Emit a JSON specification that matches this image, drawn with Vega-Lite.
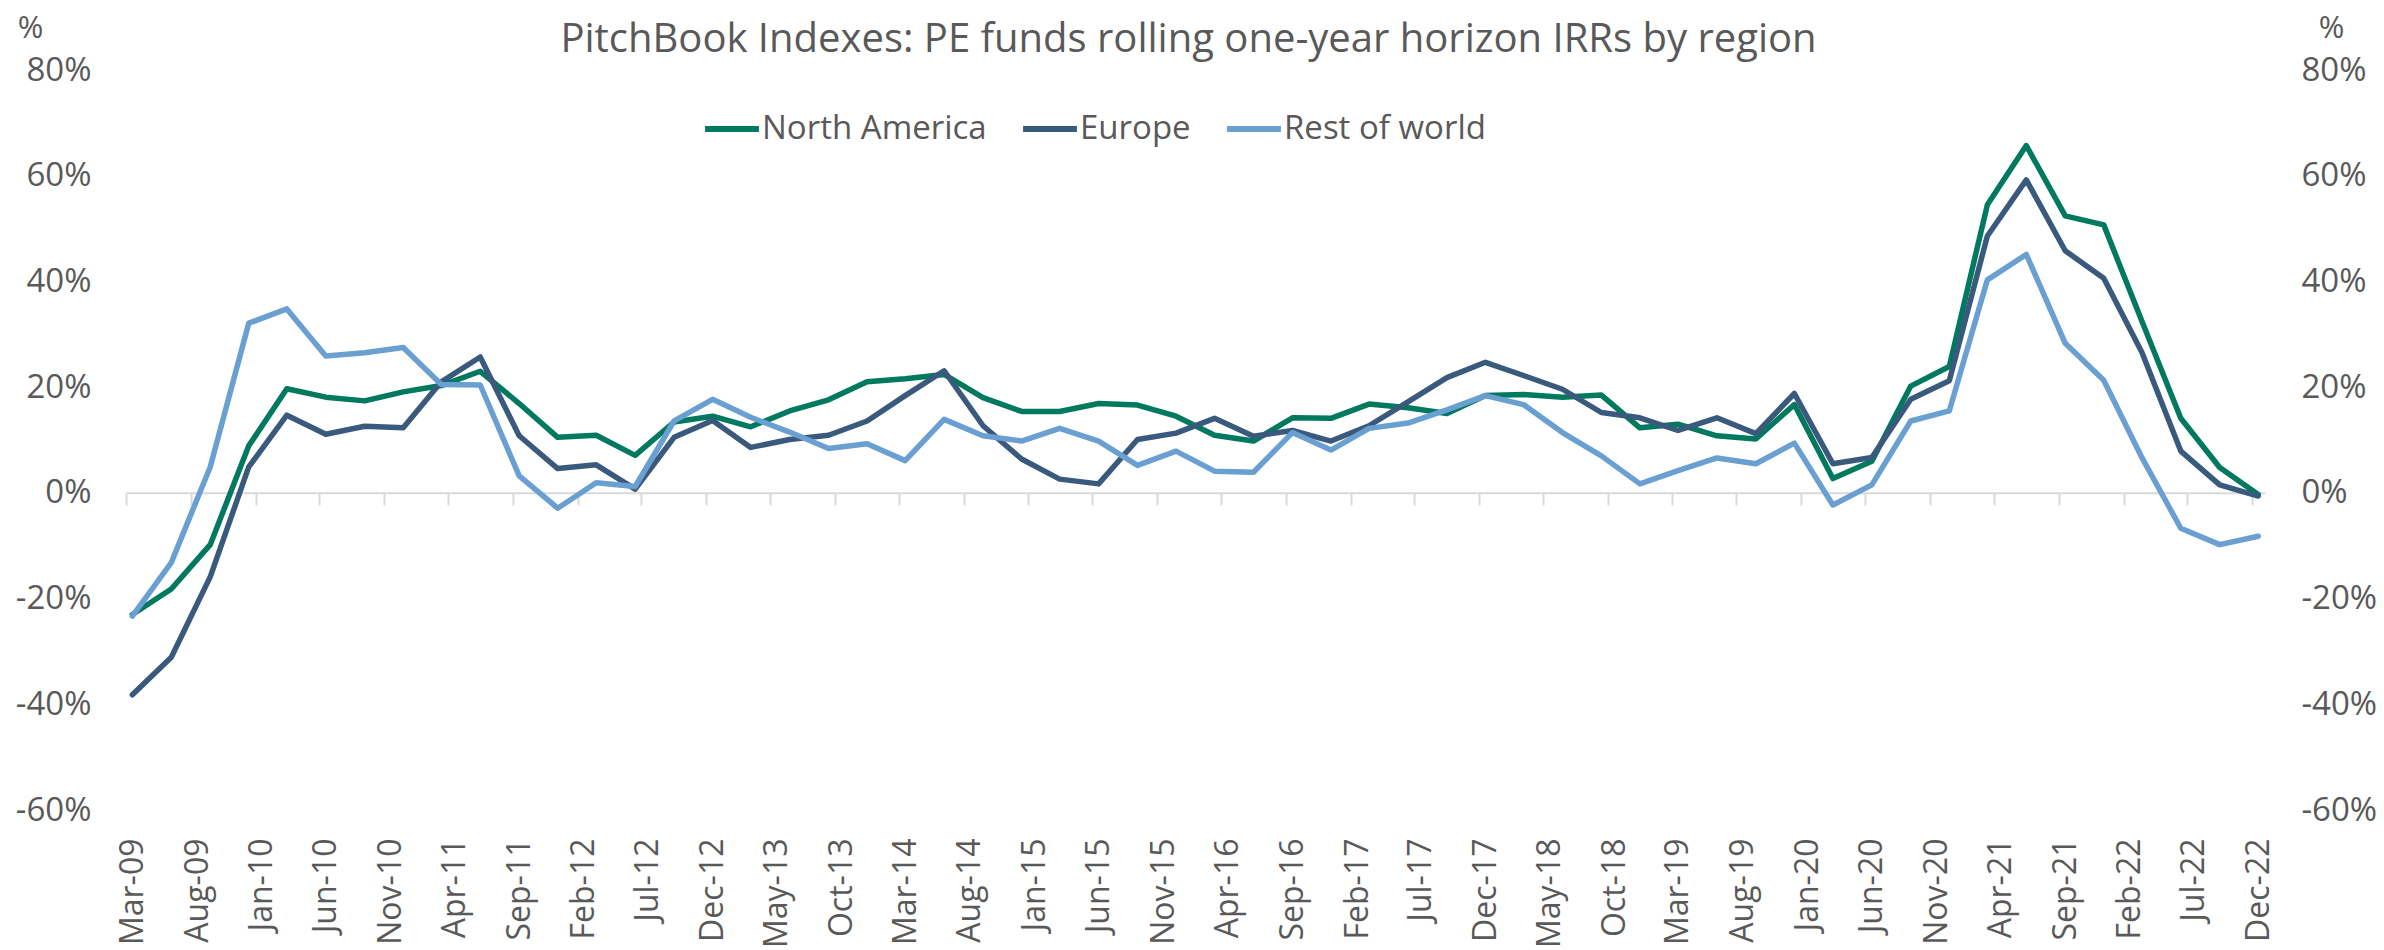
{
  "$schema": "https://vega.github.io/schema/vega-lite/v6.json",
  "autosize": {"type": "none"},
  "padding": {"left": 126, "top": 70, "right": 119, "bottom": 140},
  "width": 2139,
  "height": 740,
  "background": "#ffffff",
  "config": {"font": "Open Sans", "view": {"stroke": null}},
  "title": {"text": "PitchBook Indexes: PE funds rolling one-year horizon IRRs by region", "fontSize": 40, "fontWeight": "normal", "color": "#595959", "anchor": "middle", "dx": -7, "dy": 52},
  "data": {"values": [
    {"d":"2009-03-16","r":"North America","v":-23.0},{"d":"2009-03-16","r":"Europe","v":-38.2},{"d":"2009-03-16","r":"Rest of world","v":-23.3},
    {"d":"2009-06-16","r":"North America","v":-18.2},{"d":"2009-06-16","r":"Europe","v":-31.1},{"d":"2009-06-16","r":"Rest of world","v":-13.2},
    {"d":"2009-09-16","r":"North America","v":-9.8},{"d":"2009-09-16","r":"Europe","v":-15.9},{"d":"2009-09-16","r":"Rest of world","v":4.9},
    {"d":"2009-12-16","r":"North America","v":8.9},{"d":"2009-12-16","r":"Europe","v":4.9},{"d":"2009-12-16","r":"Rest of world","v":32.1},
    {"d":"2010-03-16","r":"North America","v":19.7},{"d":"2010-03-16","r":"Europe","v":14.7},{"d":"2010-03-16","r":"Rest of world","v":34.8},
    {"d":"2010-06-16","r":"North America","v":18.1},{"d":"2010-06-16","r":"Europe","v":11.1},{"d":"2010-06-16","r":"Rest of world","v":25.9},
    {"d":"2010-09-16","r":"North America","v":17.4},{"d":"2010-09-16","r":"Europe","v":12.6},{"d":"2010-09-16","r":"Rest of world","v":26.5},
    {"d":"2010-12-16","r":"North America","v":19.1},{"d":"2010-12-16","r":"Europe","v":12.3},{"d":"2010-12-16","r":"Rest of world","v":27.5},
    {"d":"2011-03-16","r":"North America","v":20.3},{"d":"2011-03-16","r":"Europe","v":21.0},{"d":"2011-03-16","r":"Rest of world","v":20.5},
    {"d":"2011-06-16","r":"North America","v":23.0},{"d":"2011-06-16","r":"Europe","v":25.7},{"d":"2011-06-16","r":"Rest of world","v":20.4},
    {"d":"2011-09-16","r":"North America","v":16.9},{"d":"2011-09-16","r":"Europe","v":10.8},{"d":"2011-09-16","r":"Rest of world","v":3.2},
    {"d":"2011-12-16","r":"North America","v":10.5},{"d":"2011-12-16","r":"Europe","v":4.6},{"d":"2011-12-16","r":"Rest of world","v":-2.9},
    {"d":"2012-03-16","r":"North America","v":10.9},{"d":"2012-03-16","r":"Europe","v":5.3},{"d":"2012-03-16","r":"Rest of world","v":1.9},
    {"d":"2012-06-16","r":"North America","v":7.1},{"d":"2012-06-16","r":"Europe","v":0.7},{"d":"2012-06-16","r":"Rest of world","v":1.2},
    {"d":"2012-09-16","r":"North America","v":13.4},{"d":"2012-09-16","r":"Europe","v":10.5},{"d":"2012-09-16","r":"Rest of world","v":13.6},
    {"d":"2012-12-16","r":"North America","v":14.5},{"d":"2012-12-16","r":"Europe","v":13.7},{"d":"2012-12-16","r":"Rest of world","v":17.7},
    {"d":"2013-03-16","r":"North America","v":12.5},{"d":"2013-03-16","r":"Europe","v":8.6},{"d":"2013-03-16","r":"Rest of world","v":14.3},
    {"d":"2013-06-16","r":"North America","v":15.5},{"d":"2013-06-16","r":"Europe","v":10.1},{"d":"2013-06-16","r":"Rest of world","v":11.5},
    {"d":"2013-09-16","r":"North America","v":17.6},{"d":"2013-09-16","r":"Europe","v":10.9},{"d":"2013-09-16","r":"Rest of world","v":8.4},
    {"d":"2013-12-16","r":"North America","v":21.0},{"d":"2013-12-16","r":"Europe","v":13.6},{"d":"2013-12-16","r":"Rest of world","v":9.3},
    {"d":"2014-03-16","r":"North America","v":21.6},{"d":"2014-03-16","r":"Europe","v":18.4},{"d":"2014-03-16","r":"Rest of world","v":6.1},
    {"d":"2014-06-16","r":"North America","v":22.4},{"d":"2014-06-16","r":"Europe","v":23.1},{"d":"2014-06-16","r":"Rest of world","v":13.9},
    {"d":"2014-09-16","r":"North America","v":18.0},{"d":"2014-09-16","r":"Europe","v":12.7},{"d":"2014-09-16","r":"Rest of world","v":10.8},
    {"d":"2014-12-16","r":"North America","v":15.4},{"d":"2014-12-16","r":"Europe","v":6.4},{"d":"2014-12-16","r":"Rest of world","v":9.8},
    {"d":"2015-03-16","r":"North America","v":15.4},{"d":"2015-03-16","r":"Europe","v":2.6},{"d":"2015-03-16","r":"Rest of world","v":12.2},
    {"d":"2015-06-16","r":"North America","v":16.9},{"d":"2015-06-16","r":"Europe","v":1.7},{"d":"2015-06-16","r":"Rest of world","v":9.8},
    {"d":"2015-09-16","r":"North America","v":16.6},{"d":"2015-09-16","r":"Europe","v":10.1},{"d":"2015-09-16","r":"Rest of world","v":5.2},
    {"d":"2015-12-16","r":"North America","v":14.5},{"d":"2015-12-16","r":"Europe","v":11.3},{"d":"2015-12-16","r":"Rest of world","v":7.9},
    {"d":"2016-03-16","r":"North America","v":10.9},{"d":"2016-03-16","r":"Europe","v":14.1},{"d":"2016-03-16","r":"Rest of world","v":4.1},
    {"d":"2016-06-16","r":"North America","v":9.8},{"d":"2016-06-16","r":"Europe","v":10.7},{"d":"2016-06-16","r":"Rest of world","v":3.9},
    {"d":"2016-09-16","r":"North America","v":14.2},{"d":"2016-09-16","r":"Europe","v":11.8},{"d":"2016-09-16","r":"Rest of world","v":11.4},
    {"d":"2016-12-16","r":"North America","v":14.1},{"d":"2016-12-16","r":"Europe","v":9.8},{"d":"2016-12-16","r":"Rest of world","v":8.1},
    {"d":"2017-03-16","r":"North America","v":16.8},{"d":"2017-03-16","r":"Europe","v":12.7},{"d":"2017-03-16","r":"Rest of world","v":12.2},
    {"d":"2017-06-16","r":"North America","v":16.1},{"d":"2017-06-16","r":"Europe","v":17.2},{"d":"2017-06-16","r":"Rest of world","v":13.2},
    {"d":"2017-09-16","r":"North America","v":15.0},{"d":"2017-09-16","r":"Europe","v":21.8},{"d":"2017-09-16","r":"Rest of world","v":15.7},
    {"d":"2017-12-16","r":"North America","v":18.4},{"d":"2017-12-16","r":"Europe","v":24.7},{"d":"2017-12-16","r":"Rest of world","v":18.4},
    {"d":"2018-03-16","r":"North America","v":18.6},{"d":"2018-03-16","r":"Europe","v":22.2},{"d":"2018-03-16","r":"Rest of world","v":16.7},
    {"d":"2018-06-16","r":"North America","v":18.1},{"d":"2018-06-16","r":"Europe","v":19.6},{"d":"2018-06-16","r":"Rest of world","v":11.4},
    {"d":"2018-09-16","r":"North America","v":18.5},{"d":"2018-09-16","r":"Europe","v":15.2},{"d":"2018-09-16","r":"Rest of world","v":7.0},
    {"d":"2018-12-16","r":"North America","v":12.3},{"d":"2018-12-16","r":"Europe","v":14.2},{"d":"2018-12-16","r":"Rest of world","v":1.7},
    {"d":"2019-03-16","r":"North America","v":13.0},{"d":"2019-03-16","r":"Europe","v":11.8},{"d":"2019-03-16","r":"Rest of world","v":4.2},
    {"d":"2019-06-16","r":"North America","v":10.8},{"d":"2019-06-16","r":"Europe","v":14.2},{"d":"2019-06-16","r":"Rest of world","v":6.6},
    {"d":"2019-09-16","r":"North America","v":10.2},{"d":"2019-09-16","r":"Europe","v":11.2},{"d":"2019-09-16","r":"Rest of world","v":5.5},
    {"d":"2019-12-16","r":"North America","v":16.7},{"d":"2019-12-16","r":"Europe","v":18.8},{"d":"2019-12-16","r":"Rest of world","v":9.4},
    {"d":"2020-03-16","r":"North America","v":2.7},{"d":"2020-03-16","r":"Europe","v":5.5},{"d":"2020-03-16","r":"Rest of world","v":-2.3},
    {"d":"2020-06-16","r":"North America","v":6.0},{"d":"2020-06-16","r":"Europe","v":6.7},{"d":"2020-06-16","r":"Rest of world","v":1.5},
    {"d":"2020-09-16","r":"North America","v":20.2},{"d":"2020-09-16","r":"Europe","v":17.7},{"d":"2020-09-16","r":"Rest of world","v":13.6},
    {"d":"2020-12-16","r":"North America","v":23.9},{"d":"2020-12-16","r":"Europe","v":21.2},{"d":"2020-12-16","r":"Rest of world","v":15.5},
    {"d":"2021-03-16","r":"North America","v":54.5},{"d":"2021-03-16","r":"Europe","v":48.6},{"d":"2021-03-16","r":"Rest of world","v":40.3},
    {"d":"2021-06-16","r":"North America","v":65.7},{"d":"2021-06-16","r":"Europe","v":59.2},{"d":"2021-06-16","r":"Rest of world","v":45.1},
    {"d":"2021-09-16","r":"North America","v":52.4},{"d":"2021-09-16","r":"Europe","v":45.8},{"d":"2021-09-16","r":"Rest of world","v":28.3},
    {"d":"2021-12-16","r":"North America","v":50.7},{"d":"2021-12-16","r":"Europe","v":40.6},{"d":"2021-12-16","r":"Rest of world","v":21.3},
    {"d":"2022-03-16","r":"North America","v":32.5},{"d":"2022-03-16","r":"Europe","v":26.6},{"d":"2022-03-16","r":"Rest of world","v":6.7},
    {"d":"2022-06-16","r":"North America","v":14.1},{"d":"2022-06-16","r":"Europe","v":7.9},{"d":"2022-06-16","r":"Rest of world","v":-6.7},
    {"d":"2022-09-16","r":"North America","v":4.8},{"d":"2022-09-16","r":"Europe","v":1.5},{"d":"2022-09-16","r":"Rest of world","v":-9.8},
    {"d":"2022-12-16","r":"North America","v":-0.3},{"d":"2022-12-16","r":"Europe","v":-0.6},{"d":"2022-12-16","r":"Rest of world","v":-8.2}
  ]},
  "resolve": {"axis": {"x": "independent", "y": "independent"}},
  "layer": [
    {
      "mark": {"type": "line", "strokeWidth": 5.5, "strokeJoin": "round", "strokeCap": "round"},
      "encoding": {
        "x": {"field": "d", "type": "temporal",
          "scale": {"type": "utc", "domain": [{"year": 2009, "month": 3, "date": 1, "utc": true}, {"year": 2023, "month": 1, "date": 1, "utc": true}]},
          "axis": {"orient": "bottom", "offset": -317.142857, "title": null, "labels": false, "grid": false,
            "ticks": true, "tickSize": 12, "tickWidth": 2, "tickColor": "#d9d9d9", "domain": true, "domainColor": "#d9d9d9", "domainWidth": 2,
            "values": [
              {"year":2009,"month":3,"date":1,"utc":true},{"year":2009,"month":8,"date":1,"utc":true},{"year":2010,"month":1,"date":1,"utc":true},{"year":2010,"month":6,"date":1,"utc":true},{"year":2010,"month":11,"date":1,"utc":true},
              {"year":2011,"month":4,"date":1,"utc":true},{"year":2011,"month":9,"date":1,"utc":true},{"year":2012,"month":2,"date":1,"utc":true},{"year":2012,"month":7,"date":1,"utc":true},{"year":2012,"month":12,"date":1,"utc":true},
              {"year":2013,"month":5,"date":1,"utc":true},{"year":2013,"month":10,"date":1,"utc":true},{"year":2014,"month":3,"date":1,"utc":true},{"year":2014,"month":8,"date":1,"utc":true},{"year":2015,"month":1,"date":1,"utc":true},
              {"year":2015,"month":6,"date":1,"utc":true},{"year":2015,"month":11,"date":1,"utc":true},{"year":2016,"month":4,"date":1,"utc":true},{"year":2016,"month":9,"date":1,"utc":true},{"year":2017,"month":2,"date":1,"utc":true},
              {"year":2017,"month":7,"date":1,"utc":true},{"year":2017,"month":12,"date":1,"utc":true},{"year":2018,"month":5,"date":1,"utc":true},{"year":2018,"month":10,"date":1,"utc":true},{"year":2019,"month":3,"date":1,"utc":true},
              {"year":2019,"month":8,"date":1,"utc":true},{"year":2020,"month":1,"date":1,"utc":true},{"year":2020,"month":6,"date":1,"utc":true},{"year":2020,"month":11,"date":1,"utc":true},{"year":2021,"month":4,"date":1,"utc":true},
              {"year":2021,"month":9,"date":1,"utc":true},{"year":2022,"month":2,"date":1,"utc":true},{"year":2022,"month":7,"date":1,"utc":true},{"year":2022,"month":12,"date":1,"utc":true}
            ]}},
        "y": {"field": "v", "type": "quantitative",
          "scale": {"domain": [-60, 80], "nice": false, "zero": false},
          "axis": {"orient": "left", "values": [-60, -40, -20, 0, 20, 40, 60, 80], "labelExpr": "datum.value + '%'", "grid": false, "ticks": false, "domain": false,
            "labelPadding": 35, "labelFontSize": 33, "labelColor": "#595959",
            "title": "%", "titleAngle": 0, "titleX": -96, "titleY": -42, "titleAlign": "center", "titleBaseline": "middle", "titleFontSize": 31, "titleFontWeight": "normal", "titleColor": "#595959"}},
        "color": {"field": "r", "type": "nominal",
          "scale": {"domain": ["North America", "Europe", "Rest of world"], "range": ["#00795F", "#3A5A7D", "#6A9FD2"]},
          "legend": {"title": null, "orient": "none", "legendX": 576, "legendY": 29, "direction": "horizontal", "padding": 0,
            "symbolType": "stroke", "symbolSize": 2900, "symbolStrokeWidth": 6, "labelFontSize": 33, "labelColor": "#595959", "labelOffset": 0, "columnPadding": 24, "labelLimit": 400}}
      }
    },
    {
      "mark": {"type": "point", "opacity": 0},
      "encoding": {
        "x": {"field": "d", "type": "temporal",
          "axis": {"orient": "bottom", "title": null, "grid": false, "ticks": false, "domain": false,
            "labelAngle": 270, "labelPadding": 28, "labelFontSize": 32, "labelColor": "#595959", "labelExpr": "utcFormat(datum.value, '%b-%y')", "labelOverlap": false, "labelBound": false, "labelFlush": false,
            "values": [
              {"year":2009,"month":3,"date":16,"utc":true},{"year":2009,"month":8,"date":16,"utc":true},{"year":2010,"month":1,"date":16,"utc":true},{"year":2010,"month":6,"date":16,"utc":true},{"year":2010,"month":11,"date":16,"utc":true},
              {"year":2011,"month":4,"date":16,"utc":true},{"year":2011,"month":9,"date":16,"utc":true},{"year":2012,"month":2,"date":16,"utc":true},{"year":2012,"month":7,"date":16,"utc":true},{"year":2012,"month":12,"date":16,"utc":true},
              {"year":2013,"month":5,"date":16,"utc":true},{"year":2013,"month":10,"date":16,"utc":true},{"year":2014,"month":3,"date":16,"utc":true},{"year":2014,"month":8,"date":16,"utc":true},{"year":2015,"month":1,"date":16,"utc":true},
              {"year":2015,"month":6,"date":16,"utc":true},{"year":2015,"month":11,"date":16,"utc":true},{"year":2016,"month":4,"date":16,"utc":true},{"year":2016,"month":9,"date":16,"utc":true},{"year":2017,"month":2,"date":16,"utc":true},
              {"year":2017,"month":7,"date":16,"utc":true},{"year":2017,"month":12,"date":16,"utc":true},{"year":2018,"month":5,"date":16,"utc":true},{"year":2018,"month":10,"date":16,"utc":true},{"year":2019,"month":3,"date":16,"utc":true},
              {"year":2019,"month":8,"date":16,"utc":true},{"year":2020,"month":1,"date":16,"utc":true},{"year":2020,"month":6,"date":16,"utc":true},{"year":2020,"month":11,"date":16,"utc":true},{"year":2021,"month":4,"date":16,"utc":true},
              {"year":2021,"month":9,"date":16,"utc":true},{"year":2022,"month":2,"date":16,"utc":true},{"year":2022,"month":7,"date":16,"utc":true},{"year":2022,"month":12,"date":16,"utc":true}
            ]}},
        "y": {"field": "v", "type": "quantitative",
          "axis": {"orient": "right", "values": [-60, -40, -20, 0, 20, 40, 60, 80], "labelExpr": "datum.value + '%'", "grid": false, "ticks": false, "domain": false,
            "labelPadding": 36, "labelFontSize": 33, "labelColor": "#595959",
            "title": "%", "titleAngle": 0, "titleX": 66, "titleY": -42, "titleAlign": "center", "titleBaseline": "middle", "titleFontSize": 31, "titleFontWeight": "normal", "titleColor": "#595959"}}
      }
    }
  ]
}
